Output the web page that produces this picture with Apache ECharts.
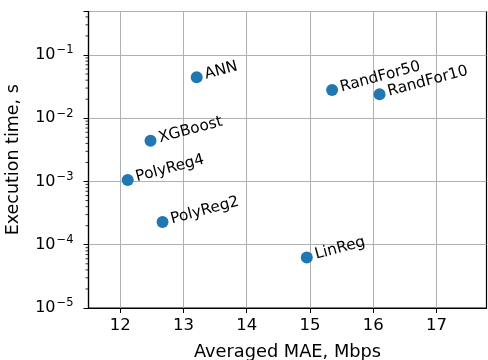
<!DOCTYPE html>
<html><head><meta charset="utf-8">
<script src="https://cdn.jsdelivr.net/npm/echarts@6/dist/echarts.min.js"></script>
<style>html,body{margin:0;padding:0;background:#fff}#c{width:488px;height:360px}</style>
</head><body><div id="c"></div>
<script>
const models = ['ANN','XGBoost','PolyReg4','PolyReg2','RandFor50','RandFor10','LinReg'];
const maeValues = [13.21, 12.48, 12.12, 12.67, 15.35, 16.10, 14.95];
const execTimes = [0.0445, 0.0044, 0.00106, 0.000229, 0.028, 0.0239, 0.000063];
const xTicks = [12, 13, 14, 15, 16, 17];
const yTickExponents = [-5, -4, -3, -2, -1];

const xMin = 11.5, xMax = 17.79, yMin = 1e-5, yMax = 0.487;
const FONT = 'DejaVu Sans';
const sup = {'-5':'−5','-4':'−4','-3':'−3','-2':'−2','-1':'−1'};

const minorVals = [];
yTickExponents.forEach(e => { for (let k = 2; k <= 9; k++) { const v = k * Math.pow(10, e); if (v <= yMax) minorVals.push(v); } });

const chart = echarts.init(document.getElementById('c'), null, {renderer:'canvas'});
chart.setOption({
  animation: false,
  grid: {left: 88.5, right: 1.5, top: 11.5, bottom: 52, outerBoundsMode: 'none', containLabel: false,
    show: true, borderColor: '#000', borderWidth: 1.2, backgroundColor: 'transparent'},
  xAxis: {
    type: 'value', min: xMin, max: xMax,
    name: 'Averaged MAE, Mbps', nameLocation: 'middle', nameGap: 35,
    nameTextStyle: {fontFamily: FONT, fontSize: 17.8, color: '#000'},
    axisLine: {show: true, onZero: false, lineStyle: {color: '#000', width: 1.2}},
    axisTick: {show: true, inside: false, length: 5, lineStyle: {color: '#000', width: 1}, customValues: xTicks},
    axisLabel: {fontFamily: FONT, fontSize: 16.5, color: '#000', margin: 9, customValues: xTicks},
    splitLine: {show: true, lineStyle: {color: '#b0b0b0', width: 1}},
    interval: 1
  },
  yAxis: {
    type: 'log', logBase: 10, min: yMin, max: yMax,
    name: 'Execution time, s', nameLocation: 'middle', nameGap: 66,
    nameTextStyle: {fontFamily: FONT, fontSize: 17.5, color: '#000'},
    axisLine: {show: true, onZero: false, lineStyle: {color: '#000', width: 1.2}},
    axisTick: {show: true, inside: false, length: 5, lineStyle: {color: '#000', width: 1}},
    axisLabel: {
      fontFamily: FONT, fontSize: 16, color: '#000', margin: 15,
      formatter: function (v) {
        const e = Math.round(Math.log10(v));
        if (Math.abs(Math.log10(v) - e) > 1e-6 || yTickExponents.indexOf(e) < 0) return '';
        return '10{s|' + sup[String(e)] + '}';
      },
      rich: {s: {fontFamily: FONT, fontSize: 11.5, color: '#000', verticalAlign: 'top', padding: [0, 0, 9, 1]}}
    },
    splitLine: {show: true, lineStyle: {color: '#b0b0b0', width: 1}}
  },
  series: [
    {
      type: 'scatter', symbolSize: 12, itemStyle: {color: '#1f77b4', opacity: 1},
      data: models.map((m, i) => ({value: [maeValues[i], execTimes[i]], name: m})),
      label: {show: true, formatter: '{b}', position: 'right', distance: 3, rotate: 15,
        fontFamily: FONT, fontSize: 15.3, color: '#000', align: 'left', verticalAlign: 'bottom', offset: [0, 5]},
      z: 5
    },
    {
      type: 'custom', silent: true, clip: false,
      data: minorVals.map(v => [xMin, v]),
      renderItem: function (params, api) {
        const p = api.coord([api.value(0), api.value(1)]);
        return {type: 'line', shape: {x1: p[0] - 3, y1: p[1], x2: p[0], y2: p[1]}, style: {stroke: '#000', lineWidth: 0.8}};
      },
      z: 3
    }
  ]
});
</script></body></html>
